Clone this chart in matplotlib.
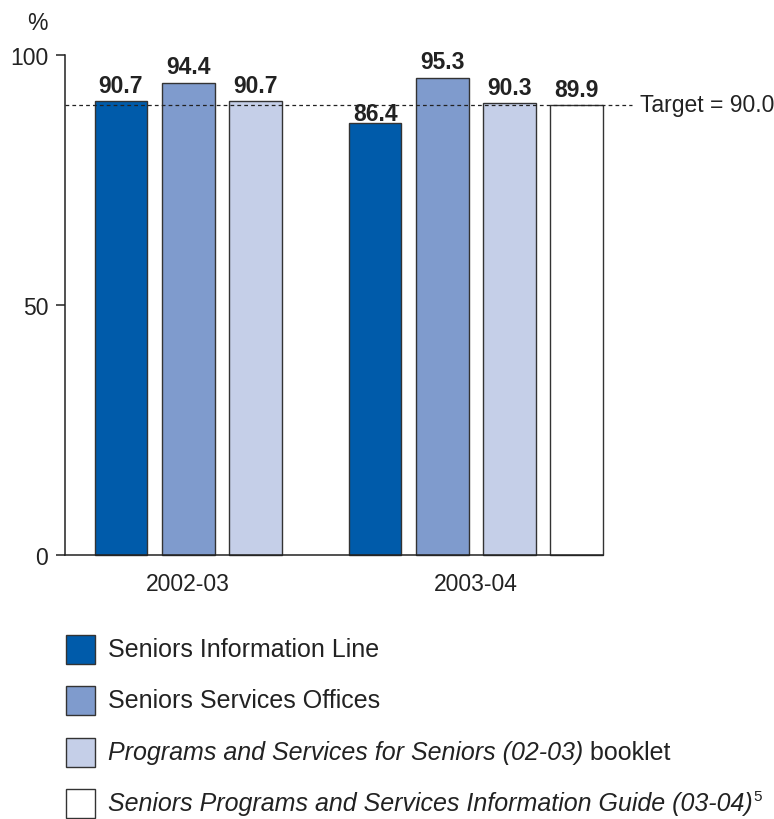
import matplotlib.pyplot as plt
from matplotlib.patches import Rectangle

plt.rcParams['font.family'] = ['Liberation Sans', 'DejaVu Sans']

# Survey results, % satisfied
years = ["2002-03", "2003-04"]
info_line = [90.7, 86.4]
service_offices = [94.4, 95.3]
booklet = [90.7, 90.3]
guide = [89.9]          # only surveyed in 2003-04
target = 90.0

series_names = ["Seniors Information Line", "Seniors Services Offices",
                "Programs and Services for Seniors (02-03)",
                "Seniors Programs and Services Information Guide (03-04)"]
colors = ["#005BAA", "#7F9BCD", "#C5CFE8", "#FFFFFF"]
edge = "#333333"
ink = "#222222"

fig = plt.figure(figsize=(7.74, 8.2), dpi=100)
W, H = 774, 820
ax = fig.add_axes([65 / W, (H - 555.7) / H, (603 - 65) / W, 500 / H])

# bar slots: group 1 at 0..2, group 2 starts at 3.78
width = 0.785
g2 = 3.78
series = [info_line, service_offices, booklet, guide]
# label lift above each bar top (86.4 sits lower, under the target line)
lift = {(0, 0): 0.9, (0, 1): -0.4, (1, 1): 1.1}
for i, vals in enumerate(series):
    if len(vals) == 2:
        xs = [i, g2 + i]
    else:
        xs = [g2 + i]
    ax.bar(xs, vals, width=width, color=colors[i], edgecolor=edge, linewidth=1.0,
           zorder=2, clip_on=False)
    for j, (x, v) in enumerate(zip(xs, vals)):
        ax.text(x, v + lift.get((i, j), 0.9), f"{v:.1f}", ha="center", va="bottom",
                fontsize=16.5, fontweight="bold", color=ink, zorder=4)

# target line runs past the plot area to its label
ax.plot([-0.833, 7.6], [target, target], ls=(0, (3, 2.5)), color=ink,
        lw=0.9, clip_on=False, zorder=3)
ax.text(7.72, target, f"Target = {target:.1f}", ha="left", va="center",
        fontsize=16.5, color=ink)

ax.set_xlim(-0.833, 7.17)
ax.set_ylim(0, 100)
ax.set_yticks([0, 50, 100])
ax.set_xticks([])
ax.tick_params(axis="y", direction="out", length=6.5, width=1.1, labelsize=16.5,
               colors=ink, pad=5.5)
for s in ["top", "right"]:
    ax.spines[s].set_visible(False)
for s in ["left", "bottom"]:
    ax.spines[s].set_linewidth(1.1)
    ax.spines[s].set_color(ink)

ax.text(1.0, -5.7, years[0], ha="center", va="center", fontsize=16.5, color=ink)
ax.text(g2 + 1.5, -5.7, years[1], ha="center", va="center", fontsize=16.5, color=ink)
ax.text(-1.24, 106.5, "%", ha="center", va="center", fontsize=16.5, color=ink)

# legend drawn by hand so labels can mix italic and regular text
row_y = [650, 701.5, 753, 804.5]
label_parts = [
    [(series_names[0], "normal")],
    [(series_names[1], "normal")],
    [(series_names[2], "italic"), (" booklet", "normal")],
    [(series_names[3], "italic")],
]
fig.canvas.draw()
renderer = fig.canvas.get_renderer()
for y, col, parts in zip(row_y, colors, label_parts):
    fig.add_artist(Rectangle((66 / W, (H - y - 14.5) / H), 29 / W, 29 / H,
                             facecolor=col, edgecolor=edge, linewidth=1.0,
                             transform=fig.transFigure))
    x = 108
    for txt, style in parts:
        t = fig.text(x / W, (H - y) / H, txt, ha="left", va="center",
                     fontsize=18, style=style, color=ink)
        x += t.get_window_extent(renderer).width
    if col == colors[3]:
        fig.text((x + 1) / W, (H - y + 7) / H, "5", ha="left", va="center",
                 fontsize=11, color=ink)

fig.savefig("out.png", dpi=100)
